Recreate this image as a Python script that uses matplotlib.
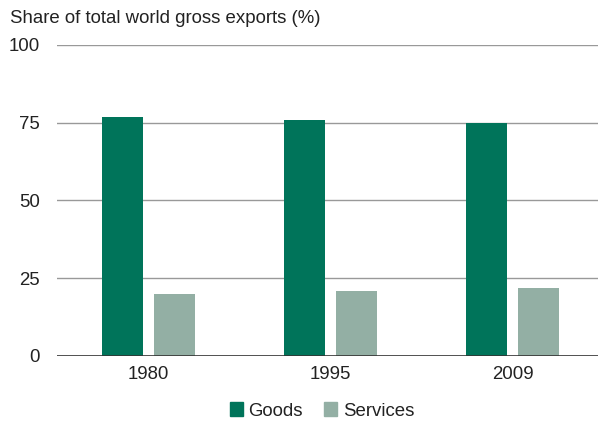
import matplotlib
matplotlib.use("Agg")
import matplotlib.pyplot as plt
import numpy as np
from matplotlib.patches import Patch

years = ["1980", "1995", "2009"]
goods = [77, 76, 75]
services = [20, 21, 22]
yticks = [0, 25, 50, 75, 100]

goods_color = "#00745A"
services_color = "#93AFA4"

plt.rcParams['font.family'] = ['Liberation Sans', 'DejaVu Sans']
FS = 13.4

fig = plt.figure(figsize=(5.98, 4.22), dpi=100)
ax = fig.add_axes([0.0953, 0.1564, 0.9047, 0.737])

x = np.arange(len(years))
w = 0.225
off = 0.143
ax.bar(x - off, goods, w, color=goods_color, zorder=3)
ax.bar(x + off, services, w, color=services_color, zorder=3)

ax.set_xlim(-0.503, 2.47)
ax.set_ylim(0, 100)
ax.set_yticks(yticks)
ax.set_xticks(x)
ax.set_xticklabels(years)
ax.tick_params(axis='both', length=0, labelsize=FS, colors="#222222")
ax.tick_params(axis='y', pad=12.2)
ax.tick_params(axis='x', pad=7)
for t in yticks[1:]:
    ax.axhline(t, color="#999999", lw=1, zorder=1)
ax.axhline(0, color="#333333", lw=1.2, zorder=4)
for s in ax.spines.values():
    s.set_visible(False)

fig.text(10/598, 1 - 23/422, "Share of total world gross exports (%)", fontsize=FS,
         ha='left', va='baseline', color="#222222")

handles = [Patch(color=goods_color, label="Goods"), Patch(color=services_color, label="Services")]
fig.legend(handles=handles, loc='center', bbox_to_anchor=(322/598, 1 - 411/422), ncol=2,
           frameon=False, fontsize=FS, handlelength=0.7, handleheight=0.7,
           handletextpad=0.3, columnspacing=1.15, labelcolor="#222222")

fig.savefig("out.png", dpi=100)
